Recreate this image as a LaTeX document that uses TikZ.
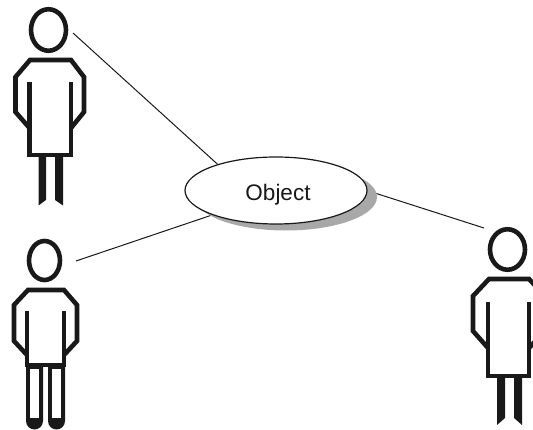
\documentclass[tikz,border=0pt]{standalone}
\usepackage{fontspec}
\setmainfont{Liberation Sans}
\usetikzlibrary{shapes.geometric,backgrounds}
\definecolor{ink}{gray}{0.1}
\definecolor{shade}{gray}{0.66}
\tikzset{
  head/.style={ellipse,draw=ink,line width=4.6pt,inner sep=0pt,outer sep=0pt},
  body/.style={draw=ink,line width=4.6pt,line join=miter,line cap=butt},
  leg/.style={fill=ink,draw=none},
  link/.style={draw=ink,line width=1pt},
  obj/.style={ellipse,minimum width=182pt,minimum height=67pt,inner sep=0pt,outer sep=0pt},
}
\begin{document}
\begin{tikzpicture}[x=1pt,y=-1pt]
\clip (0,0) rectangle (533,430);
% object
\node[obj,fill=shade] (objshadow) at (286,197) {};
\node[obj,draw=ink,fill=white,line width=1.2pt,font=\fontsize{22.5}{24}\selectfont,text=ink] (object) at (276,190.5) {\hspace*{4pt}\raisebox{-10.5pt}[0pt][0pt]{Object}};
% heads
\node[head,minimum width=35pt,minimum height=41.5pt] (head1) at (48.5,30) {};
\node[head,minimum width=31pt,minimum height=39pt] (head2) at (44.5,260.5) {};
\node[head,minimum width=35pt,minimum height=40.5pt] (head3) at (507.5,249.5) {};
% connector ends
\coordinate (free1) at (73,33);
\coordinate (free2) at (76,261);
\coordinate (free3) at (484,228);
\begin{scope}[on background layer]
\draw[link] (free1) -- (object.156.6);
\draw[link] (free2) -- (object.201.7);
\draw[link] (free3) -- (object.0);
\end{scope}
% person 1
\draw[body] (29.5,82) -- (29.5,155) -- (71,155) -- (71,82);
\draw[body] (29.5,128) -- (15.5,112) -- (15.5,77) -- (30,60) -- (71,60) -- (84,77) -- (84,112) -- (71,128);
\fill[leg] (38.5,157) -- (46,157) -- (46,200) -- (38.5,205.5) -- cycle;
\fill[leg] (55,157) -- (63,157) -- (63,205.5) -- (55,200) -- cycle;
% person 2
\draw[body] (27,311) -- (27,365) -- (64,365) -- (64,311);
\draw[body] (27,355) -- (14,341) -- (14,305) -- (28,290) -- (64,290) -- (77,305) -- (77,341) -- (64,355);
\fill[ink] (26,364) -- (26,421) arc[start angle=180,end angle=0,radius=8.5] -- (43,364) -- cycle;
\fill[ink] (48,364) -- (48,421) arc[start angle=180,end angle=0,radius=8.5] -- (65,364) -- cycle;
\fill[white] (30,369.5) rectangle (39,418);
\fill[white] (52,369.5) rectangle (61,418);
% person 3
\draw[body] (488,302) -- (488,376) -- (529,376) -- (529,302);
\draw[body] (488,348) -- (473,331) -- (473,296) -- (489,279) -- (529,279) -- (545,296) -- (545,331) -- (529,348);
\fill[leg] (497,378) -- (505,378) -- (505,418) -- (497,425) -- cycle;
\fill[leg] (514,378) -- (522,378) -- (522,425) -- (514,418) -- cycle;
\end{tikzpicture}
\end{document}
